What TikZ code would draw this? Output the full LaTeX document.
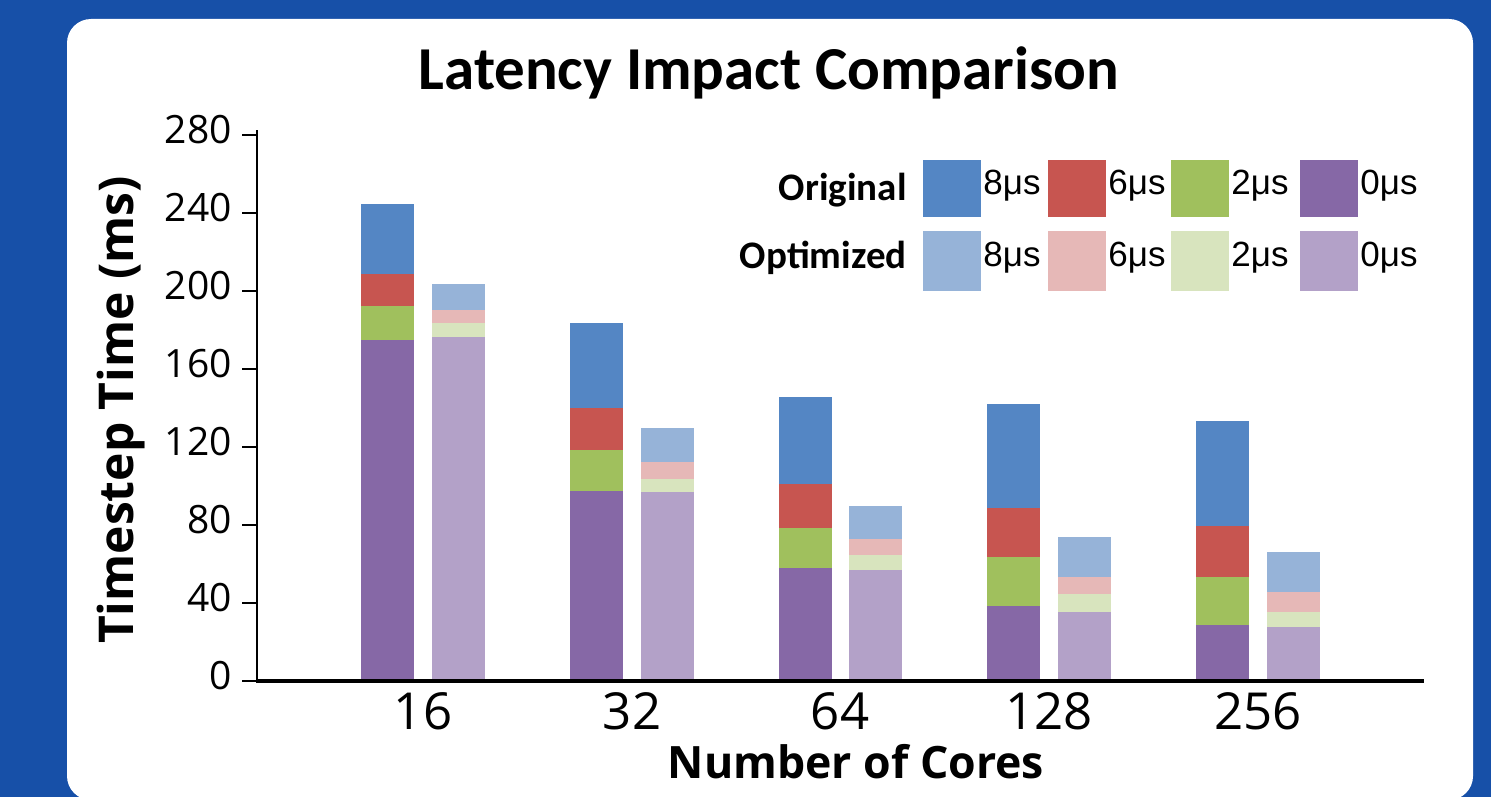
\documentclass[tikz,border=0pt]{standalone}
\usepackage{fontspec}
\setmainfont{Carlito}
\newfontfamily\osans{Open Sans}
\newfontfamily\lsans{Liberation Sans}
\definecolor{bgblue}{RGB}{23,80,168}
\definecolor{cblue}{RGB}{84,134,196}
\definecolor{cred}{RGB}{199,85,80}
\definecolor{cgreen}{RGB}{160,192,93}
\definecolor{cpurple}{RGB}{134,104,166}
\definecolor{lblue}{RGB}{150,179,216}
\definecolor{lred}{RGB}{230,184,183}
\definecolor{lgreen}{RGB}{216,228,190}
\definecolor{lpurple}{RGB}{179,161,200}
\tikzset{
  ticklab/.style={anchor=east, inner sep=0pt, font=\osans\fontsize{19.5}{24}\selectfont},
  xlab/.style={anchor=center, inner sep=0pt, font=\osans\fontsize{25.5}{30}\selectfont},
  legtitle/.style={anchor=east, inner sep=0pt, font=\bfseries\fontsize{19.5}{23}\selectfont},
  leglab/.style={anchor=west, inner sep=0pt, font=\lsans\fontsize{17.5}{20}\selectfont},
  legbox/.style={inner sep=0pt, minimum width=29pt, minimum height=28.5pt}
}
\begin{document}
\begin{tikzpicture}[x=0.5pt,y=-0.5pt]
\useasboundingbox (0,0) rectangle (1491,797);
\fill[bgblue] (0,0) rectangle (1491,797);
\fill[white, rounded corners=12pt] (67,19) rectangle (1473,800);
% title
\node[inner sep=0pt, font=\bfseries\fontsize{30.5}{36}\selectfont] (title) at (769,73) {Latency Impact Comparison};
% bars
\foreach \x/\a/\b/\c/\d in {361/340/306/274/204.3, 569.75/490.7/450/407.7/323.3, 778.5/567.7/528.3/484.3/396.7, 987.25/605.7/557/507.7/404, 1196/625.3/577/526/421.3}{
  \fill[cpurple] (\x,681) rectangle (\x+53,\a);
  \fill[cgreen] (\x,\a) rectangle (\x+53,\b);
  \fill[cred] (\x,\b) rectangle (\x+53,\c);
  \fill[cblue] (\x,\c) rectangle (\x+53,\d);
}
\foreach \x/\a/\b/\c/\d in {432/336.7/323.3/310/283.7, 641/492.3/479/462/428.3, 849/570.3/555/539.3/506, 1058/611.7/594/577.3/536.7, 1267/627.3/612/592.3/552.3}{
  \fill[lpurple] (\x,681) rectangle (\x+53,\a);
  \fill[lgreen] (\x,\a) rectangle (\x+53,\b);
  \fill[lred] (\x,\b) rectangle (\x+53,\c);
  \fill[lblue] (\x,\c) rectangle (\x+53,\d);
}
% axes
\draw[line width=1pt] (257,130) -- (257,681);
\foreach \v in {0,40,...,280}{
  \draw[line width=1pt] (242,681-1.95*\v) -- (257,681-1.95*\v);
  \node[ticklab] (t\v) at (232,676-1.95*\v) {\v};
}
\draw[line width=1.6pt] (256,681) -- (1424,681);
\foreach \n/\cx in {16/423, 32/632, 64/840, 128/1049, 256/1258}{
  \node[xlab] (x\n) at (\cx,711) {\n};
}
\node[inner sep=0pt, font=\osans\bfseries\fontsize{22.3}{26}\selectfont] (xtitle) at (856,762) {Number of Cores};
\node[inner sep=0pt, rotate=90, font=\osans\bfseries\fontsize{24}{28}\selectfont] (ytitle) at (121,410) {Timestep Time (ms)};
% legend
\node[legtitle] (lorig) at (907,190) {Original};
\node[legtitle] (lopt) at (907,258) {Optimized};
\foreach \c/\lc/\bx/\t in {cblue/lblue/923/8, cred/lred/1048/6, cgreen/lgreen/1171/2, cpurple/lpurple/1300/0}{
  \node[legbox, fill=\c, anchor=north west] (bo\t) at (\bx,160) {};
  \node[legbox, fill=\lc, anchor=north west, minimum height=30pt] (bp\t) at (\bx,231) {};
  \node[leglab] (to\t) at (\bx+60,186) {\t μs};
  \node[leglab] (tp\t) at (\bx+60,257.5) {\t μs};
}
\end{tikzpicture}
\end{document}
